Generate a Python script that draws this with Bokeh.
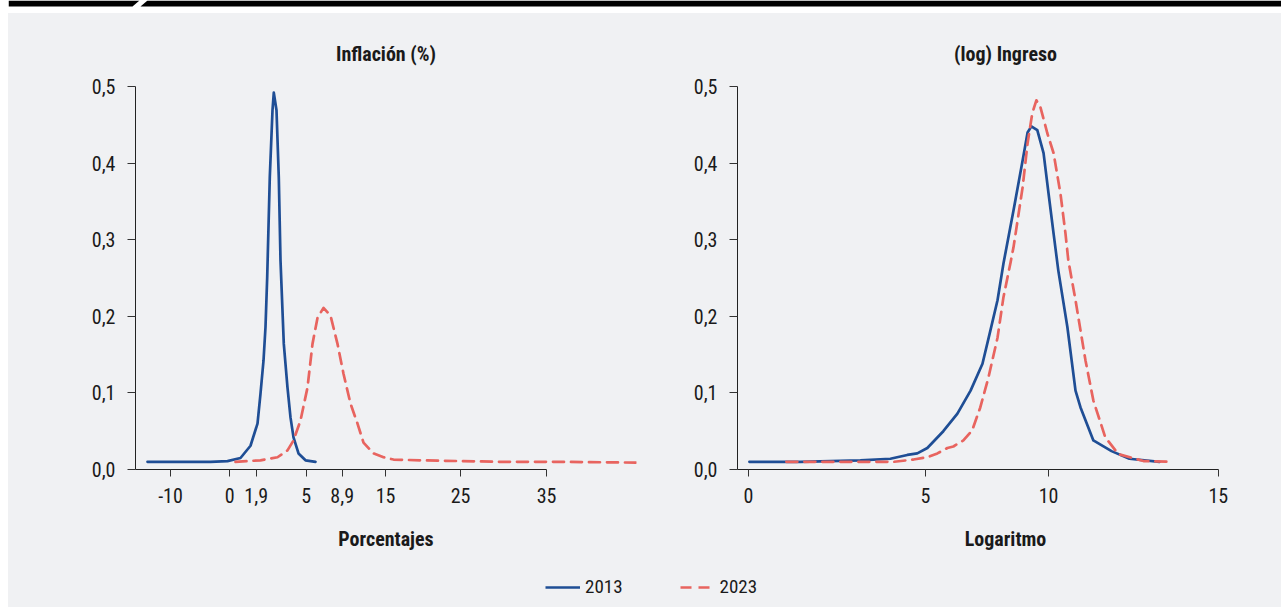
from bokeh.plotting import figure
from bokeh.layouts import column, row
from bokeh.models import Range1d, FixedTicker, CustomJSTickFormatter, Legend, LegendItem, Spacer
from bokeh.embed import file_html
from bokeh.resources import INLINE

# ---------------- data ----------------
series_labels = ["2013", "2023"]
y_ticks = [0.0, 0.1, 0.2, 0.3, 0.4, 0.5]

# Left panel: Inflación (%) — x is the position on the chart's (non-linear) percentage axis
infl_tick_pos = [3.5, 9.43, 12.07, 17.07, 20.67, 25.0, 32.5, 41.1]
infl_tick_labels = ["-10", "0", "1,9", "5", "8,9", "15", "25", "35"]
infl_2013_x = [1.2, 4.5, 7.5, 9.2, 10.5, 11.5, 12.2, 12.5, 12.8, 13.0, 13.17, 13.43, 13.7, 13.83,
               14.1, 14.33, 14.5, 14.83, 15.2, 15.5, 15.8, 16.3, 17.0, 18.0]
infl_2013_y = [0.010, 0.010, 0.010, 0.011, 0.015, 0.031, 0.060, 0.099, 0.142, 0.186, 0.251, 0.382, 0.469, 0.492,
               0.469, 0.381, 0.273, 0.164, 0.107, 0.068, 0.042, 0.021, 0.012, 0.010]
infl_2023_x = [10.0, 12.5, 14.2, 15.2, 15.8, 16.5, 17.2, 17.7, 18.2, 18.8, 19.5, 20.2, 20.8, 21.5, 22.2,
               22.8, 23.8, 24.8, 25.8, 28.5, 32.5, 36.5, 42.5, 50.1]
infl_2023_y = [0.010, 0.012, 0.016, 0.025, 0.038, 0.064, 0.107, 0.164, 0.198, 0.211, 0.201, 0.164, 0.125, 0.086, 0.060,
               0.035, 0.021, 0.016, 0.013, 0.012, 0.011, 0.010, 0.010, 0.009]

# Right panel: (log) Ingreso — x is the position on the chart's logarithm axis
inc_tick_pos = [0.0, 5.65, 9.58, 15.0]
inc_tick_labels = ["0", "5", "10", "15"]
inc_2013_x = [0.03, 1.66, 3.57, 4.53, 5.07, 5.39, 5.71, 6.22, 6.67, 7.09, 7.47, 7.72, 7.95, 8.14, 8.46, 8.75,
              8.91, 9.03, 9.22, 9.42, 9.58, 9.74, 9.89, 10.18, 10.44, 10.60, 11.01, 11.59, 12.16, 13.12]
inc_2013_y = [0.010, 0.010, 0.012, 0.014, 0.019, 0.021, 0.028, 0.050, 0.073, 0.103, 0.138, 0.181, 0.221, 0.269, 0.338, 0.403,
              0.440, 0.448, 0.443, 0.413, 0.360, 0.308, 0.260, 0.186, 0.103, 0.081, 0.038, 0.024, 0.014, 0.010]
inc_2023_x = [1.21, 4.63, 5.27, 5.71, 6.03, 6.35, 6.54, 6.86, 7.14, 7.40, 7.66, 7.95, 8.14, 8.36, 8.46, 8.75,
              8.91, 9.06, 9.19, 9.32, 9.54, 9.74, 9.96, 10.12, 10.21, 10.44, 10.76, 11.01, 11.39, 11.81, 12.26, 12.61, 13.50]
inc_2023_y = [0.010, 0.010, 0.013, 0.016, 0.021, 0.028, 0.030, 0.038, 0.051, 0.081, 0.120, 0.172, 0.225, 0.269, 0.290, 0.368,
              0.426, 0.465, 0.482, 0.473, 0.439, 0.413, 0.360, 0.308, 0.273, 0.221, 0.142, 0.090, 0.042, 0.020, 0.015, 0.011, 0.010]

# ---------------- style ----------------
BG = "#F0F1F3"
BLUE = "#1F4E95"
RED = "#E8645F"
TXT = "#1A1A1A"
FONT = "Roboto Condensed"
DASH = "11 7"
LW = 2.7
BGSTYLE = {"background-color": BG}


def make_panel(title, xlabel, xr, bounds, tick_pos, tick_labels, series, width, mbl, mbr):
    p = figure(width=width, height=547, x_range=Range1d(*xr), y_range=Range1d(0, 0.5),
               output_backend="svg", toolbar_location=None,
               min_border_left=mbl, min_border_right=mbr, min_border_top=73, min_border_bottom=91,
               background_fill_color=BG, border_fill_color=BG, outline_line_color=None,
               styles=BGSTYLE)
    p.xgrid.visible = False
    p.ygrid.visible = False
    p.title.text = title
    p.title.align = "center"
    p.title.text_font = FONT
    p.title.text_font_size = "20px"
    p.title.text_font_style = "bold"
    p.title.text_color = TXT
    p.title.standoff = 41

    for (xs, ys, color, dash) in series:
        p.line(xs, ys, line_color=color, line_width=LW, line_dash=dash,
               line_cap="round", line_join="round")

    xa = p.xaxis[0]
    xa.ticker = FixedTicker(ticks=tick_pos)
    xa.formatter = CustomJSTickFormatter(args=dict(pos=tick_pos, labs=tick_labels), code="""
        for (let i = 0; i < pos.length; i++) { if (Math.abs(pos[i] - tick) < 1e-6) return labs[i]; }
        return '';""")
    xa.bounds = bounds
    xa.axis_label = xlabel
    xa.axis_label_text_font = FONT
    xa.axis_label_text_font_style = "bold"
    xa.axis_label_text_font_size = "20px"
    xa.axis_label_text_color = TXT
    xa.axis_label_standoff = 21
    xa.major_label_text_font = FONT
    xa.major_label_text_font_size = "20px"
    xa.major_label_text_color = TXT
    xa.major_label_standoff = 11
    xa.major_tick_in = 0
    xa.major_tick_out = 7
    xa.minor_tick_line_color = None
    xa.axis_line_color = "#222222"
    xa.major_tick_line_color = "#333333"

    ya = p.yaxis[0]
    ya.ticker = FixedTicker(ticks=y_ticks)
    ya.formatter = CustomJSTickFormatter(code="return tick.toFixed(1).replace('.', ',');")
    ya.major_label_text_font = FONT
    ya.major_label_text_font_size = "20px"
    ya.major_label_text_color = TXT
    ya.major_label_standoff = 12
    ya.major_tick_in = 0
    ya.major_tick_out = 8
    ya.minor_tick_line_color = None
    ya.axis_line_color = "#222222"
    ya.major_tick_line_color = "#333333"
    return p


left = make_panel("Inflación (%)", "Porcentajes", (0, 50.1), (0, infl_tick_pos[-1]),
                  infl_tick_pos, infl_tick_labels,
                  [(infl_2013_x, infl_2013_y, BLUE, "solid"), (infl_2023_x, infl_2023_y, RED, DASH)],
                  652, 127, 24)
right = make_panel("(log) Ingreso", "Logaritmo", (-0.35, 16.76), (-0.35, inc_tick_pos[-1]),
                   inc_tick_pos, inc_tick_labels,
                   [(inc_2013_x, inc_2013_y, BLUE, "solid"), (inc_2023_x, inc_2023_y, RED, DASH)],
                   621, 77, 8)

# top decorative strip (black rule with a slanted notch)
top = figure(width=1273, height=13, x_range=Range1d(0, 1273), y_range=Range1d(0, 13), title=None,
             output_backend="svg", toolbar_location=None, min_border=0,
             background_fill_color="white", border_fill_color="white", outline_line_color=None)
top.axis.visible = False
top.grid.visible = False
top.patches(xs=[[0, 131, 124, 0], [139, 1273, 1273, 132]], ys=[[13, 13, 7, 7], [13, 13, 7, 7]],
            fill_color="black", line_color=None)

# legend strip
leg = figure(width=1273, height=47, x_range=Range1d(0, 1), y_range=Range1d(0, 1), title=None,
             output_backend="svg", toolbar_location=None, min_border=0,
             background_fill_color=BG, border_fill_color=BG, outline_line_color=None,
             styles=BGSTYLE)
leg.axis.visible = False
leg.grid.visible = False
r1 = leg.line(x=[-2, -1], y=[-2, -2], line_color=BLUE, line_width=LW)
r2 = leg.line(x=[-2, -1], y=[-2, -2], line_color=RED, line_width=LW, line_dash=DASH)
legend = Legend(items=[LegendItem(label=series_labels[0], renderers=[r1]),
                       LegendItem(label=series_labels[1], renderers=[r2])],
                orientation="horizontal", location=(537, 9), glyph_width=35, glyph_height=22,
                label_standoff=5, spacing=57, padding=0, margin=0,
                background_fill_alpha=0, border_line_color=None,
                label_text_font=FONT, label_text_font_size="19px", label_text_color=TXT)
leg.add_layout(legend)

body = column(top, row(left, right, styles=BGSTYLE), leg)
layout = row(Spacer(width=8, height=607), body)
open("out.html", "w").write(file_html(layout, INLINE))
